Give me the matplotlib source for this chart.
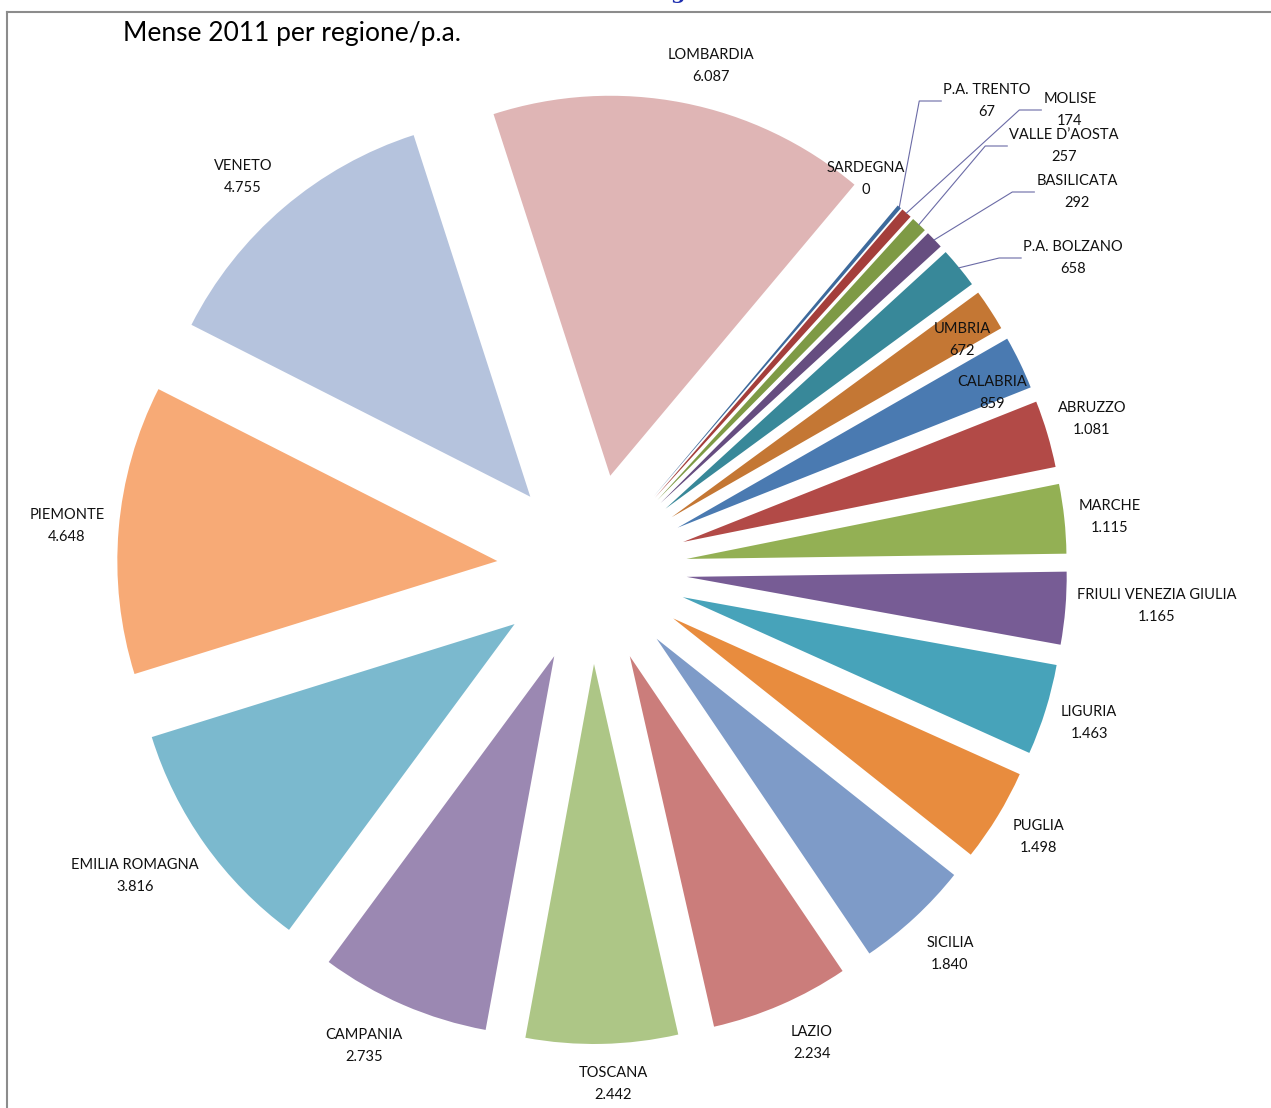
import numpy as np
import matplotlib
matplotlib.use('Agg')
import matplotlib.pyplot as plt
from matplotlib.lines import Line2D

plt.rcParams['font.family'] = ['Lato', 'DejaVu Sans']

# Data: canteens 2011 per region / autonomous province (clockwise order)
regions = ['SARDEGNA', 'P.A. TRENTO', 'MOLISE', 'VALLE D\u2019AOSTA', 'BASILICATA',
           'P.A. BOLZANO', 'UMBRIA', 'CALABRIA', 'ABRUZZO', 'MARCHE',
           'FRIULI VENEZIA GIULIA', 'LIGURIA', 'PUGLIA', 'SICILIA', 'LAZIO',
           'TOSCANA', 'CAMPANIA', 'EMILIA ROMAGNA', 'PIEMONTE', 'VENETO', 'LOMBARDIA']
mense = [0, 67, 174, 257, 292, 658, 672, 859, 1081, 1115, 1165, 1463, 1498,
         1840, 2234, 2442, 2735, 3816, 4648, 4755, 6087]
colors = ['#385D8A', '#3D6A9C', '#A43E3B', '#7E9A45', '#664D80', '#388899',
          '#C47734', '#4A7AB1', '#B24A47', '#93B054', '#775C95', '#47A3BA',
          '#E88C3E', '#7E9BC8', '#CB7D7B', '#ADC686', '#9B88B2', '#7BB9CE',
          '#F7AA76', '#B5C3DD', '#DFB5B5']

# layout (pixels)
W, H = 1271, 1108
CX, CY, R = 592, 569, 380


def px(x, y):
    return (x - CX) / R, (CY - y) / R


# label block centres, in pixels from the top-left corner
label_px = [(866, 179), (987, 101), (1070, 110), (1064, 146), (1077, 192),
            (1073, 258), (962, 340), (992, 393), (1092, 419), (1110, 517),
            (1157, 606), (1089, 723), (1038, 837), (950, 954), (812, 1043),
            (613, 1084), (364, 1046), (135, 876), (67, 526), (243, 177),
            (711, 66)]
leaders = ['P.A. TRENTO', 'MOLISE', 'VALLE D\u2019AOSTA', 'BASILICATA', 'P.A. BOLZANO']

fig = plt.figure(figsize=(W / 100, H / 100), dpi=100)
ax = fig.add_axes([0, 0, 1, 1])
wedges, _ = ax.pie(mense, colors=colors, startangle=50, counterclock=False,
                   explode=[0.25] * len(mense), radius=1,
                   wedgeprops=dict(linewidth=0))
ax.set_aspect('auto')
ax.set_xlim(-CX / R, (W - CX) / R)
ax.set_ylim(-(H - CY) / R, CY / R)
ax.axis('off')

texts = {}
for name, val, pos in zip(regions, mense, label_px):
    lab = f'{name}\n{val:,}'.replace(',', '.')
    x, y = px(*pos)
    texts[name] = ax.text(x, y, lab, ha='center', va='center', fontsize=10.5,
                          linespacing=1.8, color='#111111')

fig.canvas.draw()
renderer = fig.canvas.get_renderer()
inv = ax.transData.inverted()
for name in leaders:
    w = wedges[regions.index(name)]
    mid = np.deg2rad((w.theta1 + w.theta2) / 2)
    sx = w.center[0] + np.cos(mid)
    sy = w.center[1] + np.sin(mid)
    bb = texts[name].get_window_extent(renderer)
    left, ymid = inv.transform((bb.x0 - 2, (bb.y0 + bb.y1) / 2))
    elbow = left - 22 / R
    ax.plot([sx, elbow, left], [sy, ymid, ymid], color='#6B6BA6', lw=0.8)

# title and frame
fig.text(123 / W, 1 - 33 / H, 'Mense 2011 per regione/p.a.', fontsize=19,
         ha='left', va='center', color='black')
fig.text(670 / W, 1 + 1 / H, 'g', fontsize=15, fontweight='bold', family='DejaVu Serif',
         color='#1F2FB0', ha='left', va='baseline')
fig.add_artist(Line2D([7 / W, 1], [1 - 12 / H] * 2, transform=fig.transFigure,
                      color='#8c8c8c', lw=1.5))
fig.add_artist(Line2D([7 / W] * 2, [0, 1 - 12 / H], transform=fig.transFigure,
                      color='#8c8c8c', lw=1.5))

fig.savefig('out.png', dpi=100)
